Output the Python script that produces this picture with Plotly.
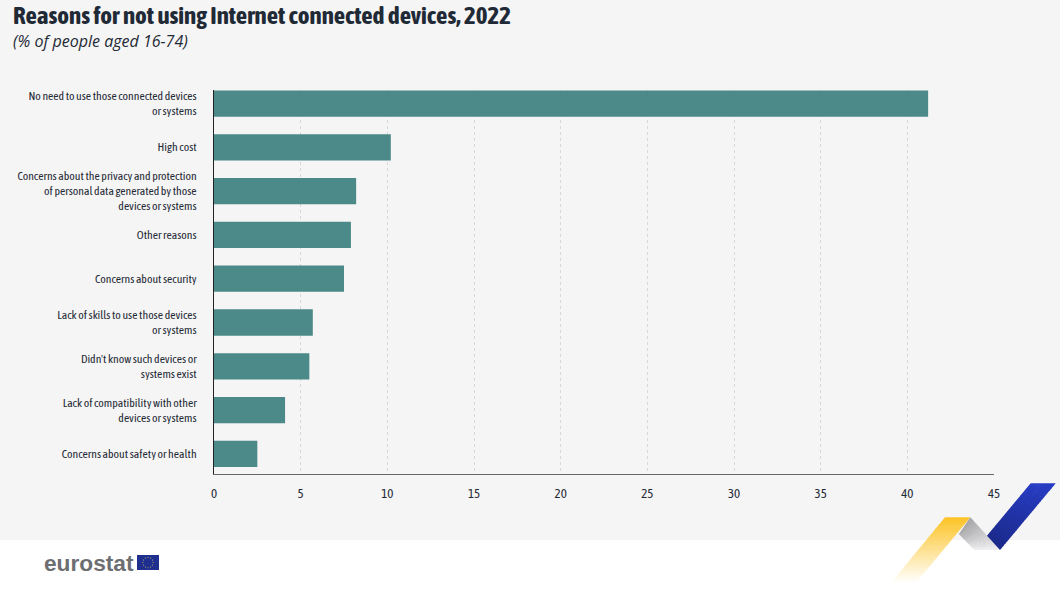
import math
import plotly.graph_objects as go

WIDTH = 1060
HEIGHT = 601

categories = [
    "No need to use those connected devices<br>or systems",
    "High cost",
    "Concerns about the privacy and protection<br>of personal data generated by those<br>devices or systems",
    "Other reasons",
    "Concerns about security",
    "Lack of skills to use those devices<br>or systems",
    "Didn't know such devices or<br>systems exist",
    "Lack of compatibility with other<br>devices or systems",
    "Concerns about safety or health",
]
values = [41.2, 10.2, 8.2, 7.9, 7.5, 5.7, 5.5, 4.1, 2.5]
x_ticks = [0, 5, 10, 15, 20, 25, 30, 35, 40, 45]

title = "Reasons for not using Internet connected devices, 2022"
subtitle = "(% of people aged 16-74)"

NARROW = "Asap Condensed, Archivo Narrow, Liberation Sans"
TEXT_COLOR = "#1f2a36"


def px(x):
    return x / WIDTH


def py(y):
    return 1 - y / HEIGHT


def poly(points, color):
    path = "M" + "L".join(f"{px(x)},{py(y)}" for x, y in points) + "Z"
    return dict(type="path", xref="paper", yref="paper", path=path,
                fillcolor=color, line_width=0, layer="below")


def mix(c1, c2, t):
    return "rgb(%d,%d,%d)" % tuple(round(a + (b - a) * t) for a, b in zip(c1, c2))


def ribbon(a, b, c, d, c1, c2, steps=30):
    # a-b is the start edge and d-c the end edge, sliced to fake a gradient
    out = []
    for i in range(steps):
        t0 = i / steps
        t1 = min(1, (i + 1.3) / steps)
        p = [
            (a[0] + (d[0] - a[0]) * t0, a[1] + (d[1] - a[1]) * t0),
            (b[0] + (c[0] - b[0]) * t0, b[1] + (c[1] - b[1]) * t0),
            (b[0] + (c[0] - b[0]) * t1, b[1] + (c[1] - b[1]) * t1),
            (a[0] + (d[0] - a[0]) * t1, a[1] + (d[1] - a[1]) * t1),
        ]
        out.append(poly(p, mix(c1, c2, i / (steps - 1))))
    return out


shapes = []

# white footer under the grey panel
shapes.append(dict(type="rect", xref="paper", yref="paper", x0=0, x1=1, y0=0, y1=py(540),
                   fillcolor="white", line_width=0, layer="below"))

# ribbons
shapes += ribbon((945, 517.3), (970.3, 517.3), (915, 584), (890, 584),
                 (252, 196, 40), (255, 255, 255))
shapes += ribbon((970.3, 517.3), (959, 534), (974.3, 550), (1000, 550),
                 (165, 165, 168), (238, 238, 240))
shapes += ribbon((1030.7, 483.3), (1055.7, 483.3), (1000, 550), (987, 535.7),
                 (38, 60, 196), (28, 42, 140))

# flag
shapes.append(dict(type="rect", xref="paper", yref="paper", x0=px(137), x1=px(159),
                   y0=py(570), y1=py(555), fillcolor="#1f2f8f", line_width=0, layer="below"))
for k in range(12):
    ang = k * math.pi / 6
    cx = 148 + 5.2 * math.cos(ang)
    cy = 562.5 + 5.2 * math.sin(ang)
    shapes.append(dict(type="circle", xref="paper", yref="paper",
                       x0=px(cx - 0.5), x1=px(cx + 0.5), y0=py(cy + 0.5), y1=py(cy - 0.5),
                       fillcolor="#d8c860", line_width=0, layer="below"))

fig = go.Figure()

fig.add_trace(
    go.Bar(
        x=values,
        y=categories,
        orientation="h",
        width=0.6,
        marker_color="#4b8a88",
        marker_line_width=0,
    )
)

annotations = [
    dict(text=f"<b>{title}</b>", x=px(11), y=py(15), xref="paper", yref="paper",
         xanchor="left", yanchor="middle", showarrow=False,
         font=dict(family=NARROW, size=25, color=TEXT_COLOR)),
    dict(text=f"<i>{subtitle}</i>", x=px(11), y=py(41), xref="paper", yref="paper",
         xanchor="left", yanchor="middle", showarrow=False,
         font=dict(family="Open Sans", size=16, color=TEXT_COLOR)),
    dict(text="<b>eurostat</b>", x=px(42), y=py(563), xref="paper", yref="paper",
         xanchor="left", yanchor="middle", showarrow=False,
         font=dict(family="Liberation Sans", size=22.7, color="#6d6e71")),
]

fig.update_layout(
    width=WIDTH,
    height=HEIGHT,
    margin=dict(l=0, r=0, t=0, b=0, pad=0),
    paper_bgcolor="#f5f5f5",
    plot_bgcolor="rgba(0,0,0,0)",
    showlegend=False,
    shapes=shapes,
    annotations=annotations,
    xaxis=dict(
        domain=[px(214), px(994)],
        range=[0, 45],
        tickvals=x_ticks,
        ticklen=0,
        ticklabelstandoff=7,
        automargin=False,
        showgrid=True,
        gridcolor="#d8d8d8",
        griddash="dot",
        gridwidth=1,
        zeroline=False,
        showline=True,
        linecolor="#666666",
        linewidth=1,
        tickfont=dict(family=NARROW, size=13, color=TEXT_COLOR),
    ),
    yaxis=dict(
        domain=[py(474), py(90)],
        range=[8.46, -0.31],
        ticklen=0,
        ticklabelstandoff=14,
        automargin=False,
        showgrid=False,
        zeroline=False,
        showline=True,
        linecolor="#222222",
        linewidth=1,
        tickfont=dict(family=NARROW, size=11.7, color=TEXT_COLOR),
    ),
)

fig.write_html("out.html", config={"displayModeBar": False},
               post_script="document.body.style.margin='0';")
